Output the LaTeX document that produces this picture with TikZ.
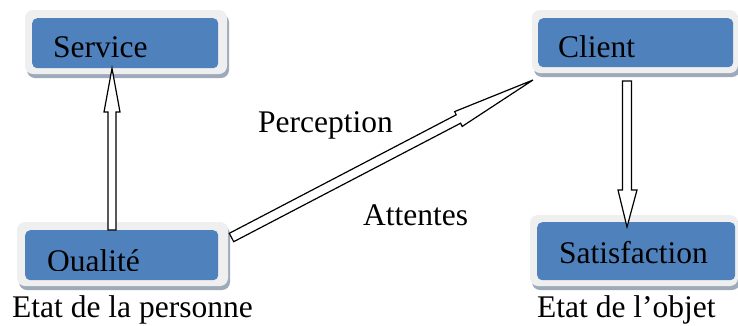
\documentclass[tikz,border=0pt]{standalone}
\usepackage{fontspec}
\setmainfont{Liberation Serif}
\usetikzlibrary{calc}
\definecolor{boxblue}{HTML}{4F81BD}
\definecolor{outergray}{HTML}{EFEFEF}
\definecolor{shadowgray}{HTML}{9EAABA}
\tikzset{
  shadowbox/.style={fill=shadowgray, rounded corners=8pt, draw=none},
  outerbox/.style={fill=outergray, rounded corners=8pt, draw=none},
  bluebox/.style={fill=boxblue, rounded corners=5pt, draw=none},
  lbl/.style={anchor=base west, inner sep=0pt, font=\fontsize{31.5}{37}\selectfont},
  fatarrow/.style={draw=black, fill=white, line width=1.2pt, line join=miter}
}
\newcommand{\framedbox}[9]{%
  \fill[shadowbox] (#6+2,#7+4) rectangle (#8+2,#9+4);
  \fill[outerbox] (#6,#7) rectangle (#8,#9);
  \node[bluebox, minimum width=#4-#2, minimum height=#5-#3, inner sep=0pt, anchor=north west] (#1) at (#2,#3) {};
}
\begin{document}
\begin{tikzpicture}[x=1pt,y=-1pt]
\useasboundingbox (0,0) rectangle (738,325);
% boxes
\framedbox{service}{32}{18}{218}{68}{25}{10}{227}{74}
\framedbox{client}{538}{18}{733}{67}{532}{10}{738}{73}
\framedbox{qualite}{25}{230}{218}{280}{17}{222}{228}{286}
\framedbox{satisf}{537}{222}{735}{280}{530}{215}{738}{286}
% box texts
\node[lbl] (tservice) at (53,57) {Service};
\node[lbl] (tclient) at (558,57) {Client};
\begin{scope}
  \clip (0,0) rectangle (738,270);
  \node[lbl] (tqualite) at (47,271.5) {Qualité};
\end{scope}
\node[lbl] (tsatisf) at (559,263) {Satisfaction};
% free labels
\node[lbl] (perception) at (258,132) {Perception};
\node[lbl] (attentes) at (363,225) {Attentes};
\node[lbl] (etatp) at (12,317) {Etat de la personne};
\node[lbl] (etato) at (537,317) {Etat de l’objet};
% arrow: Qualite -> Service
\coordinate (q1) at (qualite.north -| 112,0);
\coordinate (s1) at (service.south -| 112,0);
\draw[fatarrow] ($(q1)+(-4,0)$) -- (108,112) -- (104,112) -- (s1) -- (120,112) -- (116,112) -- ($(q1)+(4,0)$) -- cycle;
% arrow: Client -> Satisfaction
\coordinate (c1) at (627,81);
\coordinate (sa1) at (627,227);
\draw[fatarrow] ($(c1)+(-4.5,0)$) -- (622.5,190) -- (618,190) -- (sa1) -- (637,190) -- (631.5,190) -- ($(c1)+(4.5,0)$) -- cycle;
% arrow: Qualite -> Client
\coordinate (qt) at (231.5,237.5);
\coordinate (ct) at (533,80);
\draw[fatarrow] (229.3,233.3) -- (456.2,114.8) -- (454.6,111.6) -- (ct) -- (462.2,126.4) -- (460.6,123.2) -- (233.7,241.7) -- cycle;
\end{tikzpicture}
\end{document}
